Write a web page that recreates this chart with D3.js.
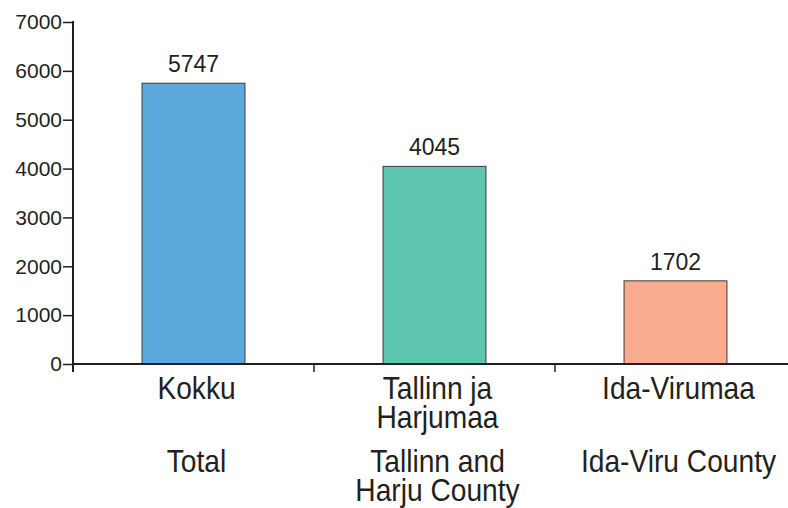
<!DOCTYPE html>
<html>
<head>
<meta charset="utf-8">
<script src="https://cdn.jsdelivr.net/npm/d3@7"></script>
<style>
body { margin:0; background:#fff; }
svg text { fill:#231f20; }
</style>
</head>
<body>
<div id="chart"></div>
<script>
var categories = ["Kokku", "Tallinn ja Harjumaa", "Ida-Virumaa"]
var values = [5747, 4045, 1702]
var labels_et = [["Kokku"], ["Tallinn ja", "Harjumaa"], ["Ida-Virumaa"]]
var labels_en = [["Total"], ["Tallinn and", "Harju County"], ["Ida-Viru County"]]
var colors = ["#5ca9dd", "#5ec5af", "#f9ab90"]
var y_ticks = [0, 1000, 2000, 3000, 4000, 5000, 6000, 7000]

var w = 788, h = 508
var left = 73, zero_y = 364, top_y = 22
var font = "'Liberation Sans', Arial, Helvetica, sans-serif"

var svg = d3.select("#chart").append("svg").attr("width", w).attr("height", h)

var x = d3.scaleBand().domain(categories).range([left, 796]).paddingInner(0.573).paddingOuter(0.2865)
var y = d3.scaleLinear().domain([0, 7000]).range([zero_y, top_y])

// bars
svg.selectAll("rect.bar")
  .data(categories)
  .enter().append("rect")
  .attr("class", "bar")
  .attr("x", function(d){ return x(d) })
  .attr("y", function(d, i){ return y(values[i]) })
  .attr("width", x.bandwidth())
  .attr("height", function(d, i){ return y(0) - y(values[i]) })
  .attr("fill", function(d, i){ return colors[i] })
  .attr("stroke", "#3a3a3a")
  .attr("stroke-width", 1)

// value labels
svg.selectAll("text.val")
  .data(categories)
  .enter().append("text")
  .attr("class", "val")
  .attr("x", function(d){ return x(d) + x.bandwidth()/2 })
  .attr("y", function(d, i){ return y(values[i]) - 11 })
  .attr("text-anchor", "middle")
  .style("font-family", font)
  .style("font-size", "23px")
  .text(function(d, i){ return values[i] })

// y axis
var y_axis = d3.axisLeft(y).tickValues(y_ticks).tickSize(10).tickPadding(1).tickFormat(d3.format("d"))
var gy = svg.append("g").attr("transform", "translate(" + left + ",0)").call(y_axis)
gy.select(".domain").remove()
gy.append("line").attr("x1", 0).attr("x2", 0).attr("y1", top_y - 1).attr("y2", zero_y + 8)
  .attr("stroke", "#231f20").attr("stroke-width", 2)
gy.selectAll(".tick line").attr("stroke", "#231f20").attr("stroke-width", 1.5)
gy.selectAll(".tick text")
  .style("font-family", font)
  .style("font-size", "21px")
  .attr("fill", "#231f20")

// x axis
svg.append("line").attr("x1", left).attr("x2", w).attr("y1", zero_y).attr("y2", zero_y)
  .attr("stroke", "#231f20").attr("stroke-width", 2)
svg.selectAll("line.xtick")
  .data(categories.slice(1))
  .enter().append("line")
  .attr("class", "xtick")
  .attr("x1", function(d){ return x(d) - x.step()*x.paddingInner()/2 })
  .attr("x2", function(d){ return x(d) - x.step()*x.paddingInner()/2 })
  .attr("y1", zero_y).attr("y2", zero_y + 8)
  .attr("stroke", "#231f20").attr("stroke-width", 1.5)

// category labels (condensed look: tall font squeezed horizontally)
// one text per line so the tight leading doesn't stack boxes
function addLabels(lines, y0) {
  categories.forEach(function(c, i){
    var cx = x(c) + x.bandwidth()/2 + 3
    lines[i].forEach(function(l, j){
      svg.append("text")
        .attr("transform", "translate(" + cx + "," + (y0 + j*29) + ") scale(0.88,1)")
        .attr("text-anchor", "middle")
        .style("font-family", font)
        .style("font-size", "32px")
        .text(l)
    })
  })
}
addLabels(labels_et, 399)
addLabels(labels_en, 472)
</script>
</body>
</html>
